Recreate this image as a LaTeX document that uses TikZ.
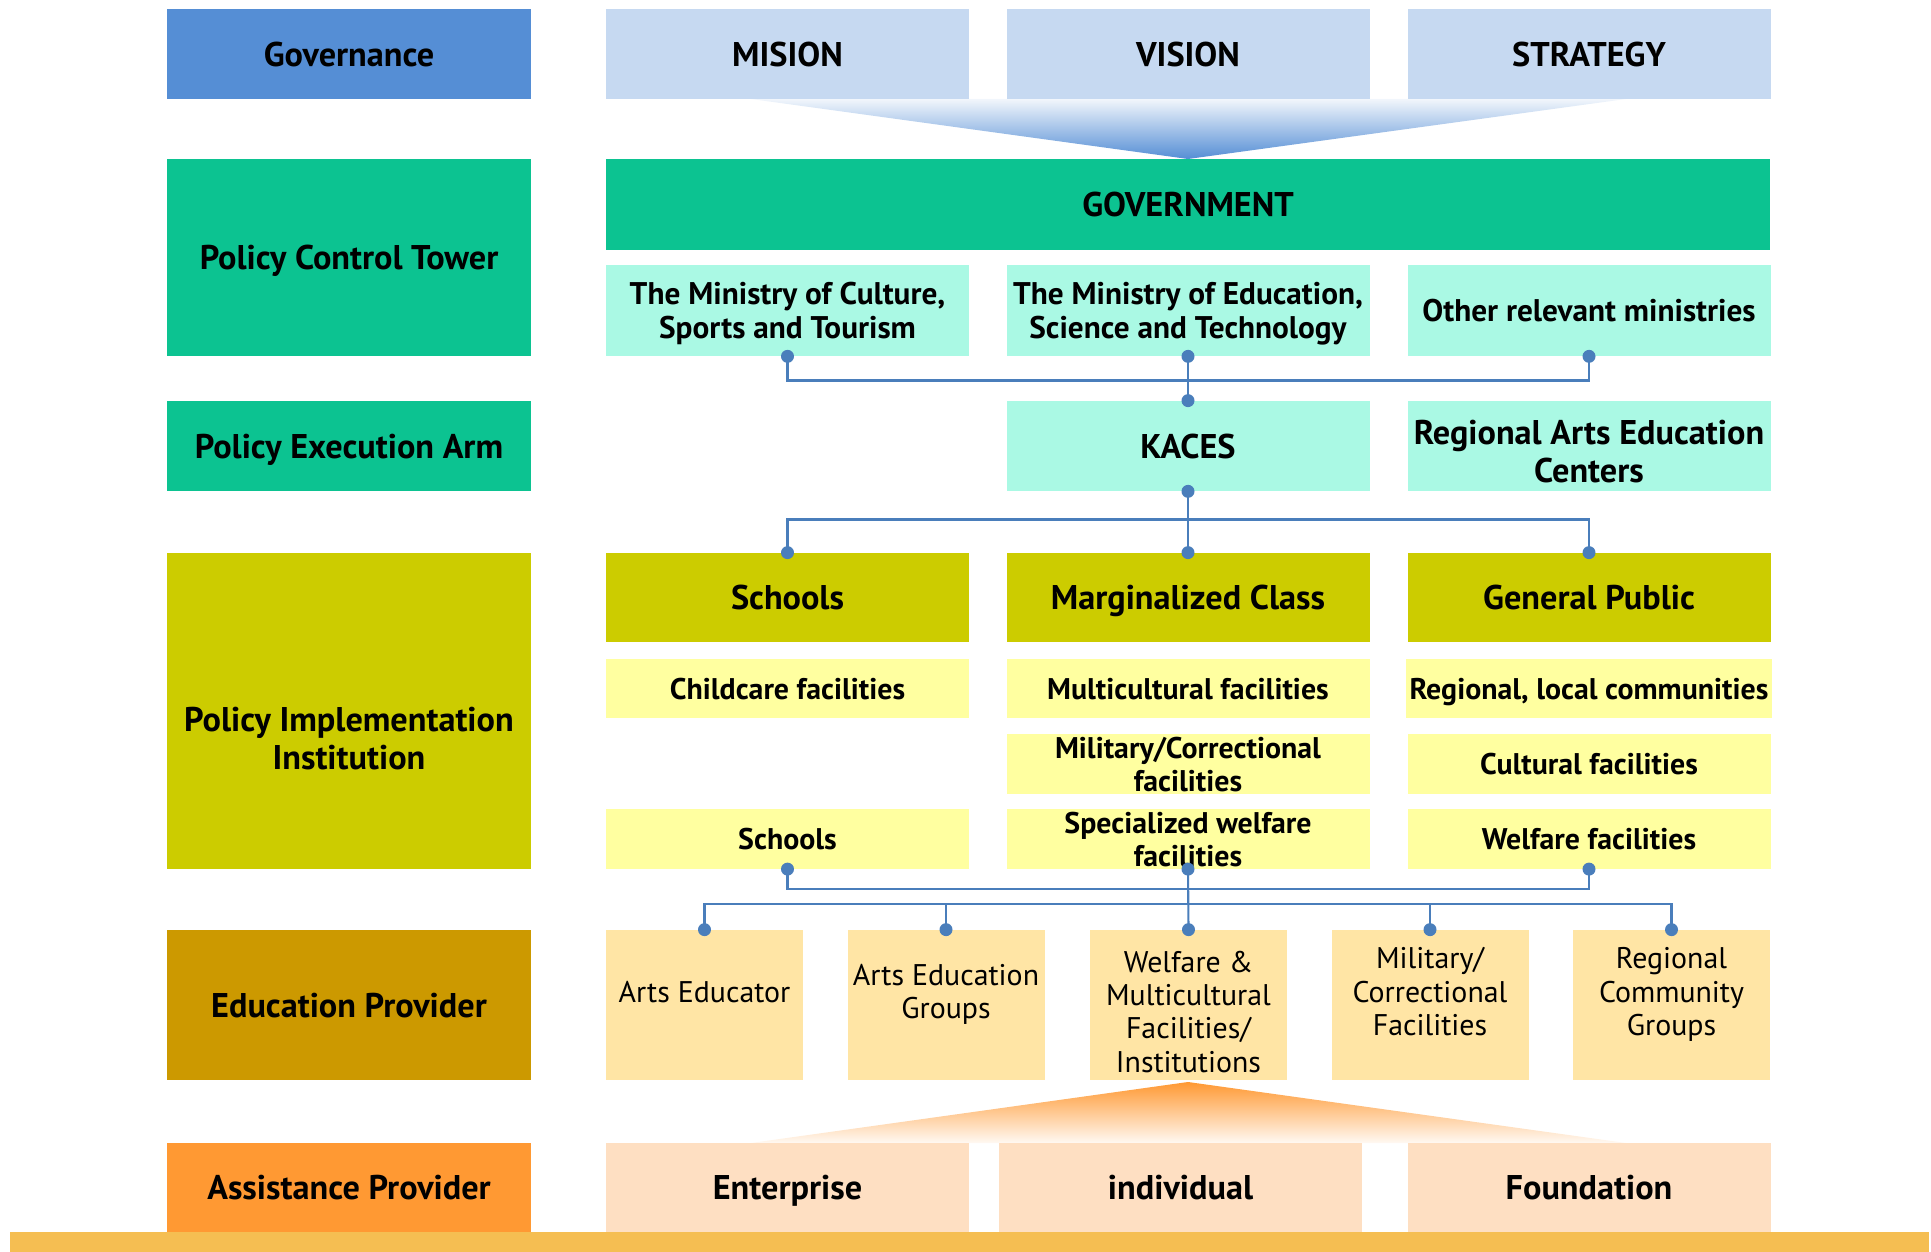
\documentclass[tikz,border=0pt]{standalone}
\usepackage{fontspec}
\setmainfont{PT Sans}
\usetikzlibrary{positioning,calc}
\definecolor{govblue}{HTML}{558ED5}
\definecolor{govlight}{HTML}{C6D9F1}
\definecolor{towergreen}{HTML}{0CC391}
\definecolor{towerlight}{HTML}{AAF9E4}
\definecolor{instolive}{HTML}{CCCC00}
\definecolor{instlight}{HTML}{FFFFA0}
\definecolor{edudark}{HTML}{CC9900}
\definecolor{edulight}{HTML}{FFE5A5}
\definecolor{assistorange}{HTML}{FF9933}
\definecolor{assistlight}{HTML}{FEDFC2}
\definecolor{barorange}{HTML}{F5BE52}
\definecolor{linkblue}{HTML}{4A7EBB}
\tikzset{
  box/.style={minimum width=7.26cm,minimum height=1.8cm,inner sep=2pt,align=center,text depth=0pt,
    font=\bfseries\fontsize{19.5}{21.6}\selectfont},
  rowhead/.style={box,minimum width=7.28cm},
  ministry/.style={box,minimum height=1.82cm,fill=towerlight,font=\bfseries\fontsize{17.8}{19.6}\selectfont},
  subbox/.style={box,minimum height=1.19cm,inner ysep=0pt,fill=instlight,font=\bfseries\fontsize{17}{18.9}\selectfont},
  edubox/.style={minimum width=3.94cm,minimum height=3cm,inner sep=1pt,align=center,fill=edulight,
    font=\fontsize{17}{18.9}\selectfont},
  eduup/.style={text depth=0.54cm},
  link/.style={draw=linkblue,line width=1.2pt},
  dot/.style={fill=linkblue}
}

\begin{document}
\begin{tikzpicture}
  \useasboundingbox (0,0) rectangle (38.62,-25.04);
  \shade[top color=govblue!8,bottom color=govblue] (15.02,-1.98)--(32.52,-1.98)--(23.76,-3.18)--cycle;
  \shade[top color=assistorange,bottom color=assistorange!6] (23.76,-21.64)--(32.52,-22.86)--(15.02,-22.86)--cycle;
  % governance
  \node[rowhead,fill=govblue] (gov) at (6.98,-1.08) {Governance};
  \node[box,fill=govlight] (mision) at (15.75,-1.08) {MISION};
  \node[box,fill=govlight] (vision) at (23.76,-1.08) {VISION};
  \node[box,fill=govlight] (strategy) at (31.78,-1.08) {STRATEGY};
  % policy control tower
  \node[rowhead,fill=towergreen,minimum height=3.94cm] (tower) at (6.98,-5.15) {Policy Control Tower};
  \node[box,fill=towergreen,minimum width=23.28cm,minimum height=1.82cm] (government) at (23.76,-4.09) {GOVERNMENT};
  \node[ministry] (min1) at (15.75,-6.21) {The Ministry of Culture,\\Sports and Tourism};
  \node[ministry] (min2) at (23.76,-6.21) {The Ministry of Education,\\Science and Technology};
  \node[ministry] (min3) at (31.78,-6.21) {Other relevant ministries};
  % policy execution arm
  \node[rowhead,fill=towergreen] (arm) at (6.98,-8.92) {Policy Execution Arm};
  \node[box,fill=towerlight] (kaces) at (23.76,-8.92) {KACES};
  \node[box,fill=towerlight,text height=1.47cm] (regional) at (31.78,-8.92) {Regional Arts Education\\Centers};
  % policy implementation institution
  \node[rowhead,fill=instolive,minimum height=6.32cm,text height=2.34cm] (inst) at (6.98,-14.22) {Policy Implementation\\Institution};
  \node[box,fill=instolive,minimum height=1.78cm] (schools) at (15.75,-11.95) {Schools};
  \node[box,fill=instolive,minimum height=1.78cm] (marginal) at (23.76,-11.95) {Marginalized Class};
  \node[box,fill=instolive,minimum height=1.78cm] (public) at (31.78,-11.95) {General Public};
  \node[subbox] (childcare) at (15.75,-13.77) {Childcare facilities};
  \node[subbox] (multi) at (23.76,-13.77) {Multicultural facilities};
  \node[subbox] (local) at (31.78,-13.77) {Regional, local communities};
  \node[subbox] (military) at (23.76,-15.28) {Military/Correctional\\facilities};
  \node[subbox] (cultural) at (31.78,-15.28) {Cultural facilities};
  \node[subbox] (school2) at (15.75,-16.78) {Schools};
  \node[subbox] (special) at (23.76,-16.78) {Specialized welfare\\facilities};
  \node[subbox] (welfare) at (31.78,-16.78) {Welfare facilities};
  % education provider
  \node[rowhead,fill=edudark,minimum height=3cm] (edu) at (6.98,-20.10) {Education Provider};
  \node[edubox,eduup] (edu1) at (14.09,-20.10) {Arts Educator};
  \node[edubox,eduup] (edu2) at (18.92,-20.10) {Arts Education\\Groups};
  \node[edubox,text depth=0pt,text height=2.68cm] (edu3) at (23.77,-20.10) {Welfare \&\\Multicultural\\Facilities/\\Institutions};
  \node[edubox,eduup] (edu4) at (28.60,-20.10) {Military/\\Correctional\\Facilities};
  \node[edubox,eduup] (edu5) at (33.43,-20.10) {Regional\\Community\\Groups};
  % assistance provider
  \node[rowhead,fill=assistorange,minimum height=1.78cm] (assist) at (6.98,-23.75) {Assistance Provider};
  \node[box,fill=assistlight,minimum height=1.78cm] (enterprise) at (15.75,-23.75) {Enterprise};
  \node[box,fill=assistlight,minimum height=1.78cm] (individual) at (23.61,-23.75) {individual};
  \node[box,fill=assistlight,minimum height=1.78cm] (foundation) at (31.78,-23.75) {Foundation};
  \fill[barorange] (0.2,-24.64) rectangle (38.58,-25.04);
  % connectors
  \coordinate (busA) at (0,-7.61);
  \coordinate (busB) at (0,-10.39);
  \coordinate (busC) at (0,-17.78);
  \coordinate (busD) at (0,-18.08);
  \draw[link] (min1.south) -- (min1.south |- busA) -- (min3.south |- busA) -- (min3.south);
  \draw[link] (min2.south) -- (kaces.north);
  \draw[link] (kaces.south) -- (marginal.north);
  \draw[link] (schools.north) -- (schools.north |- busB) -- (public.north |- busB) -- (public.north);
  \draw[link] (school2.south) -- (school2.south |- busC) -- (welfare.south |- busC) -- (welfare.south);
  \draw[link] (special.south) -- (edu3.north);
  \draw[link] (edu1.north) -- (edu1.north |- busD) -- (edu5.north |- busD) -- (edu5.north);
  \foreach \n in {edu2,edu4}
    \draw[link] (\n.north) -- (\n.north |- busD);
  \foreach \n in {min1.south,min2.south,min3.south,kaces.north,kaces.south,schools.north,marginal.north,public.north,
    school2.south,special.south,welfare.south,edu1.north,edu2.north,edu3.north,edu4.north,edu5.north}
    \fill[dot] (\n) circle (0.13);
\end{tikzpicture}
\end{document}
